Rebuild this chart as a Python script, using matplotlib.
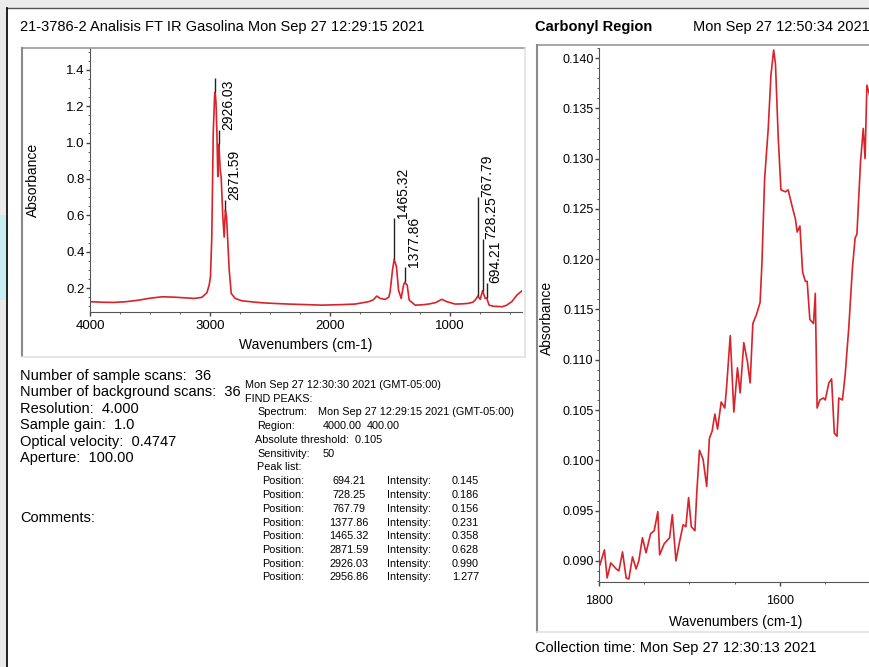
import numpy as np
import matplotlib.pyplot as plt
from matplotlib.ticker import MultipleLocator, FormatStrFormatter
from matplotlib.lines import Line2D
from matplotlib.patches import Rectangle

plt.rcParams['font.family'] = ['Liberation Sans', 'DejaVu Sans']

W, H = 870, 667

# full spectrum 4000-400 cm-1
wn_full = [4000, 3900, 3800, 3700, 3600, 3500, 3400, 3300, 3200, 3130, 3068, 3026,
           3007, 2996, 2985, 2973, 2962, 2956.86, 2950, 2943, 2935, 2929, 2926.03,
           2915, 2907, 2893, 2882, 2874, 2871.59, 2862, 2851, 2840, 2823, 2790, 2735,
           2650, 2568, 2450, 2346, 2200, 2068, 1900, 1790, 1679, 1640, 1610, 1582,
           1540, 1510, 1499, 1479, 1465.32, 1446, 1429, 1407, 1387, 1377.86, 1357,
           1340, 1290, 1230, 1179, 1120, 1068, 1026, 957, 900, 846, 810, 790, 767.79,
           748, 728.25, 707, 694.21, 674, 640, 600, 568, 530, 485, 443, 400]
abs_full = [0.125, 0.122, 0.121, 0.125, 0.133, 0.144, 0.152, 0.150, 0.146, 0.143, 0.149, 0.174,
            0.216, 0.262, 0.483, 1.05, 1.253, 1.277, 1.22, 1.07, 0.813, 0.96, 0.990,
            0.85, 0.81, 0.59, 0.48, 0.60, 0.628, 0.59, 0.445, 0.30, 0.17, 0.143, 0.13,
            0.124, 0.119, 0.115, 0.112, 0.109, 0.106, 0.109, 0.112, 0.125, 0.135, 0.156, 0.143,
            0.138, 0.150, 0.18, 0.30, 0.358, 0.317, 0.189, 0.143, 0.217, 0.231, 0.217,
            0.134, 0.106, 0.108, 0.112, 0.120, 0.138, 0.125, 0.112, 0.113, 0.116, 0.122, 0.134, 0.156,
            0.138, 0.186, 0.143, 0.145, 0.106, 0.100, 0.099, 0.097, 0.105, 0.125, 0.161, 0.185]

# FIND PEAKS results
peak_pos = [694.21, 728.25, 767.79, 1377.86, 1465.32, 2871.59, 2926.03, 2956.86]
peak_int = [0.145, 0.186, 0.156, 0.231, 0.358, 0.628, 0.990, 1.277]
peak_top = [0.228, 0.47, 0.70, 0.316, 0.585, 0.684, 1.07, 1.356]

# carbonyl region 1800-1500 cm-1
wn_co = [1799, 1794, 1791, 1787, 1781, 1778, 1774, 1770, 1767, 1763, 1759, 1756, 1752,
         1748, 1743, 1739, 1735, 1733, 1728, 1722, 1719, 1715, 1711, 1707, 1704, 1701,
         1698, 1694, 1692, 1689, 1685, 1681, 1678, 1675, 1672, 1669, 1665, 1661, 1659,
         1655, 1651, 1647, 1644, 1640, 1636, 1633, 1630, 1626, 1622, 1620, 1617, 1613,
         1610, 1607, 1605, 1602, 1599, 1594, 1591, 1587, 1583, 1581, 1578, 1575, 1572,
         1570, 1567, 1563, 1561, 1559, 1556, 1552, 1550, 1546, 1543, 1540, 1537, 1535,
         1531, 1528, 1524, 1520, 1517, 1515, 1511, 1508, 1506, 1504, 1500]
abs_co = [0.0896, 0.0911, 0.0883, 0.0898, 0.0892, 0.0890, 0.0909, 0.0883, 0.0882, 0.0904,
          0.0892, 0.0900, 0.0923, 0.0908, 0.0927, 0.0930, 0.0949, 0.0906, 0.0917, 0.0923,
          0.0946, 0.0900, 0.0919, 0.0936, 0.0934, 0.0963, 0.0934, 0.0930, 0.0967, 0.1010,
          0.1001, 0.0974, 0.1022, 0.1029, 0.1046, 0.1031, 0.1058, 0.1052, 0.1073, 0.1124,
          0.1048, 0.1092, 0.1067, 0.1117, 0.1098, 0.1077, 0.1136, 0.1145, 0.1157, 0.1195,
          0.1280, 0.1330, 0.1383, 0.1408, 0.1394, 0.1322, 0.1269, 0.1267, 0.1269, 0.1254,
          0.1240, 0.1227, 0.1233, 0.1187, 0.1178, 0.1178, 0.1140, 0.1136, 0.1166, 0.1052,
          0.1060, 0.1062, 0.1060, 0.1077, 0.1081, 0.1027, 0.1024, 0.1062, 0.1060, 0.1085,
          0.1132, 0.1191, 0.1221, 0.1225, 0.1297, 0.1330, 0.1300, 0.1373, 0.1360]

info_lines = ["Number of sample scans:  36", "Number of background scans:  36",
              "Resolution:  4.000", "Sample gain:  1.0", "Optical velocity:  0.4747",
              "Aperture:  100.00"]

RED = '#d8232a'


def fx(x):
    return x / W


def fy(y):
    return 1 - y / H


def ftext(x, y, s, **kw):
    kw.setdefault('va', 'center')
    kw.setdefault('fontsize', 10.5)
    fig.text(fx(x), fy(y), s, **kw)


def fline(x0, y0, x1, y1, color, lw=1.0):
    fig.add_artist(Line2D([fx(x0), fx(x1)], [fy(y0), fy(y1)], color=color, lw=lw))


fig = plt.figure(figsize=(W / 100, H / 100), dpi=100)
fig.patch.set_facecolor('white')

# screenshot border
fig.add_artist(Rectangle((0, 0), fx(7), 1, color='#ebebeb', lw=0))
fig.add_artist(Rectangle((0, fy(8)), 1, 8 / H, color='#ebebeb', lw=0))
fig.add_artist(Rectangle((0, fy(300)), fx(7), 85 / H, color='#c9eef0', lw=0))
fline(7, 8, W, 8, '#555555', 1.0)
fline(7, 8, 7, H, '#111111', 1.3)

# frames around the plots
fline(22, 48, 525, 48, '#9a9a9a', 1.2)
fline(22, 48, 22, 356, '#8a8a8a', 1.5)
fline(525, 48, 525, 357, '#e2e2e2', 1.2)
fline(22, 357, 525, 357, '#e2e2e2', 1.2)
fline(537, 45, W, 45, '#9a9a9a', 1.2)
fline(537, 45, 537, 632, '#8a8a8a', 1.5)
fline(537, 632, W, 632, '#e2e2e2', 1.2)

# ---- full spectrum ----
ax1 = fig.add_axes([fx(90), fy(311.7), (522 - 90) / W, (311.7 - 48) / H])
ax1.plot(wn_full, abs_full, color=RED, lw=1.2)
ax1.vlines(peak_pos, peak_int, peak_top, color='#222222', lw=1.0)
for p, t in zip(peak_pos, peak_top):
    if t > 1.3:
        continue
    ax1.annotate(f'{p:.2f}', (p, t), xytext=(6.5, 0), textcoords='offset points',
                 rotation=90, ha='center', va='bottom', fontsize=10)
ax1.set_xlim(4000, 400)
ax1.set_ylim(0.07, 1.52)
ax1.xaxis.set_major_locator(MultipleLocator(1000))
ax1.xaxis.set_minor_locator(MultipleLocator(250))
ax1.yaxis.set_major_locator(MultipleLocator(0.2))
ax1.yaxis.set_minor_locator(MultipleLocator(0.05))
ax1.yaxis.set_major_formatter(FormatStrFormatter('%.1f'))
ax1.tick_params(axis='both', which='major', length=3, width=1, color='#444444', labelsize=9.5)
ax1.tick_params(axis='x', which='major', pad=3)
ax1.tick_params(axis='y', which='major', pad=1)
ax1.tick_params(axis='both', which='minor', length=1.5, color='#444444')
for s in ['top', 'right']:
    ax1.spines[s].set_visible(False)
for s in ['left', 'bottom']:
    ax1.spines[s].set_color('#555555')
ax1.set_facecolor('none')

ftext(306, 345, 'Wavenumbers (cm-1)', ha='center', fontsize=10)
ftext(33, 180, 'Absorbance', ha='center', rotation=90, fontsize=10)

# header
ftext(20, 27, '21-3786-2 Analisis FT IR Gasolina Mon Sep 27 12:29:15 2021')

# collection info
for i, s in enumerate(info_lines):
    ftext(20, 376 + i * 16.4, s)
ftext(20, 518, 'Comments:')

# FIND PEAKS report
SM = 7.8
ftext(245, 385, 'Mon Sep 27 12:30:30 2021 (GMT-05:00)', fontsize=SM)
ftext(245, 398.5, 'FIND PEAKS:', fontsize=SM)
ftext(257, 412, 'Spectrum:', fontsize=SM)
ftext(318, 412, 'Mon Sep 27 12:29:15 2021 (GMT-05:00)', fontsize=SM)
ftext(257, 426, 'Region:', fontsize=SM)
ftext(323, 426, '4000.00', fontsize=SM)
ftext(367, 426, '400.00', fontsize=SM)
ftext(255, 440, 'Absolute threshold:  0.105', fontsize=SM)
ftext(257, 454, 'Sensitivity:', fontsize=SM)
ftext(323, 454, '50', fontsize=SM)
ftext(257, 467.5, 'Peak list:', fontsize=SM)
for i, (p, v) in enumerate(zip(peak_pos, peak_int)):
    y = 481.5 + i * 13.7
    ftext(262, y, 'Position:', fontsize=SM)
    ftext(349, y, f'{p:.2f}', fontsize=SM, ha='center')
    ftext(387, y, 'Intensity:', fontsize=SM)
    ftext(452, y, f'{v:.3f}', fontsize=SM)

# ---- carbonyl region (cut by the right edge of the screenshot) ----
ax2 = fig.add_axes([fx(599), fy(582), (W - 599) / W, (582 - 48) / H])
ax2.plot(wn_co, abs_co, color=RED, lw=1.2)
ax2.set_xlim(1800, 1800 - (W - 599) / 0.905)
ax2.set_ylim(0.0879, 0.141)
ax2.xaxis.set_major_locator(MultipleLocator(200))
ax2.xaxis.set_minor_locator(MultipleLocator(50))
ax2.yaxis.set_major_locator(MultipleLocator(0.005))
ax2.yaxis.set_minor_locator(MultipleLocator(0.001))
ax2.yaxis.set_major_formatter(FormatStrFormatter('%.3f'))
ax2.tick_params(axis='both', which='major', length=3, width=1, color='#444444', labelsize=9)
ax2.tick_params(axis='x', which='major', pad=6)
ax2.tick_params(axis='y', which='major', pad=1)
ax2.tick_params(axis='both', which='minor', length=1.5, color='#444444')
for s in ['top', 'right']:
    ax2.spines[s].set_visible(False)
for s in ['left', 'bottom']:
    ax2.spines[s].set_color('#555555')
ax2.set_facecolor('none')

ftext(736, 622, 'Wavenumbers (cm-1)', ha='center', fontsize=10)
ftext(547, 318, 'Absorbance', ha='center', rotation=90, fontsize=10)
ftext(535, 27, 'Carbonyl Region', fontweight='bold')
ftext(693, 27, 'Mon Sep 27 12:50:34 2021')
ftext(535, 648, 'Collection time: Mon Sep 27 12:30:13 2021')

fig.savefig('out.png', dpi=100)
